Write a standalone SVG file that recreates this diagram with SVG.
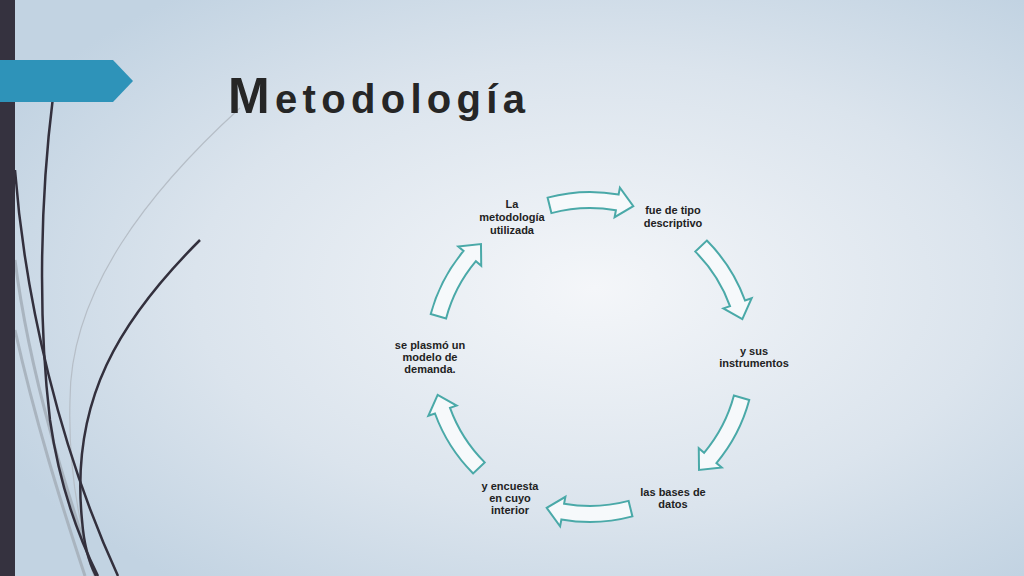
<svg xmlns="http://www.w3.org/2000/svg" xmlns:xlink="http://www.w3.org/1999/xlink" width="1024" height="576" viewBox="0 0 1024 576">
<defs>
<radialGradient id="bg" cx="0.58" cy="0.5" r="0.65">
<stop offset="0" stop-color="#f4f6f9"/><stop offset="0.6" stop-color="#dbe4ed"/><stop offset="1" stop-color="#c2d3e2"/>
</radialGradient>
<path id="arr" d="M-42.4,-159.4 A165 165 0 0 1 28.6,-162.5 L29.9,-169.4 L43.3,-150.9 L24.6,-139.8 L25.9,-146.7 A149 149 0 0 0 -38.6,-143.9 Z"/>
</defs>
<style>
.a{fill:#f6f9fb;stroke:#4aa9a8;stroke-width:2;stroke-linejoin:miter}
.t{font-family:"Century Gothic","URW Gothic","Liberation Sans",sans-serif;font-weight:bold;font-size:11px;fill:#222;text-anchor:middle}
.dk{fill:none;stroke:#33303d;stroke-width:2.5}
.gr{fill:none;stroke:#a9b4bf;stroke-width:3}
</style>
<rect width="1024" height="576" fill="url(#bg)"/>
<path class="gr" d="M15,260 C30,380 70,500 95,576"/>
<path class="gr" d="M15,330 C35,420 60,500 85,576" stroke-width="2"/>
<path d="M240,108 C150,190 70,290 70,400 C68,470 80,530 95,576" fill="none" stroke="#b6bec7" stroke-width="1.2"/>
<path class="dk" d="M53,97 C40,200 38,320 50,420 C60,490 80,540 98,576"/>
<path class="dk" d="M15,170 C25,300 60,450 118,576"/>
<path class="dk" d="M200,240 C120,320 70,400 82,520 C84,545 90,565 96,576" stroke-width="2"/>
<rect width="15" height="576" fill="#35323f"/>
<polygon points="0,60 113,60 133,81 113,102 0,102" fill="#2e93b9"/>
<text x="228" y="113" font-family="'Century Gothic','URW Gothic','Liberation Sans',sans-serif" font-weight="bold" fill="#262626" font-size="40" textLength="297" lengthAdjust="spacing"><tspan font-size="50">M</tspan>etodología</text>
<g id="connectors">
<use xlink:href="#arr" class="a" transform="translate(590,357)"/>
<use xlink:href="#arr" class="a" transform="translate(590,357) rotate(60)"/>
<use xlink:href="#arr" class="a" transform="translate(590,357) rotate(120)"/>
<use xlink:href="#arr" class="a" transform="translate(590,357) rotate(180)"/>
<use xlink:href="#arr" class="a" transform="translate(590,357) rotate(240)"/>
<use xlink:href="#arr" class="a" transform="translate(590,357) rotate(300)"/>
</g>
<g id="n1"><text class="t" x="512" y="208">La</text><text class="t" x="512" y="221">metodología</text><text class="t" x="512" y="234">utilizada</text></g>
<g id="n2"><text class="t" x="673" y="214">fue de tipo</text><text class="t" x="673" y="227">descriptivo</text></g>
<g id="n3"><text class="t" x="754" y="355">y sus</text><text class="t" x="754" y="367">instrumentos</text></g>
<g id="n4"><text class="t" x="673" y="496">las bases de</text><text class="t" x="673" y="508">datos</text></g>
<g id="n5"><text class="t" x="510" y="490">y encuesta</text><text class="t" x="510" y="502">en cuyo</text><text class="t" x="510" y="514">interior</text></g>
<g id="n6"><text class="t" x="430" y="349">se plasmó un</text><text class="t" x="430" y="361">modelo de</text><text class="t" x="430" y="373">demanda.</text></g>
</svg>
